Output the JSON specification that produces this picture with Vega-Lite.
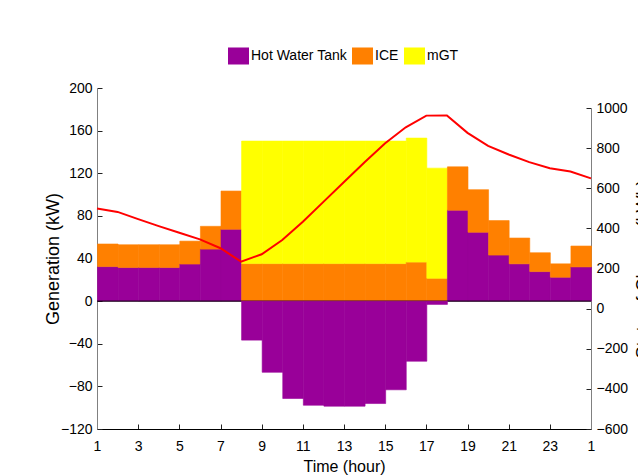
{
  "$schema": "https://vega.github.io/schema/vega-lite/v6.json",
  "width": 494,
  "height": 341,
  "autosize": {"type": "none"},
  "padding": {"left": 97, "top": 88, "right": 47, "bottom": 47},
  "background": "white",
  "config": {
    "view": {"stroke": null},
    "font": "Liberation Sans",
    "axis": {
      "grid": false,
      "labelFontSize": 14,
      "labelColor": "#000",
      "labelFlush": false,
      "labelFont": "Liberation Sans",
      "titleFont": "Liberation Sans",
      "titleFontWeight": "normal",
      "titleColor": "#000",
      "tickColor": "#222",
      "tickSize": -5,
      "tickWidth": 1,
      "domainColor": "#808080",
      "domainWidth": 1
    },
    "legend": {
      "orient": "none",
      "legendX": 131,
      "legendY": -43,
      "direction": "horizontal",
      "title": null,
      "symbolType": "M-1,-0.81H1V0.81H-1Z",
      "symbolSize": 441,
      "symbolStrokeWidth": 0,
      "symbolOpacity": 1,
      "labelFontSize": 14,
      "labelFont": "Liberation Sans",
      "labelColor": "#000",
      "labelOffset": 2,
      "columnPadding": 5,
      "padding": 0
    }
  },
  "datasets": {
    "gen": [
      {"hour": 1, "source": "Hot Water Tank", "kW": 32.4}, {"hour": 1, "source": "ICE", "kW": 21.2},
      {"hour": 2, "source": "Hot Water Tank", "kW": 31.5}, {"hour": 2, "source": "ICE", "kW": 21.4},
      {"hour": 3, "source": "Hot Water Tank", "kW": 31.5}, {"hour": 3, "source": "ICE", "kW": 21.4},
      {"hour": 4, "source": "Hot Water Tank", "kW": 31.5}, {"hour": 4, "source": "ICE", "kW": 21.4},
      {"hour": 5, "source": "Hot Water Tank", "kW": 34.8}, {"hour": 5, "source": "ICE", "kW": 21.5},
      {"hour": 6, "source": "Hot Water Tank", "kW": 48.8}, {"hour": 6, "source": "ICE", "kW": 21.4},
      {"hour": 7, "source": "Hot Water Tank", "kW": 67.4}, {"hour": 7, "source": "ICE", "kW": 35.9},
      {"hour": 8, "source": "Hot Water Tank", "kW": -36.6}, {"hour": 8, "source": "ICE", "kW": 35.2}, {"hour": 8, "source": "mGT", "kW": 115},
      {"hour": 9, "source": "Hot Water Tank", "kW": -66.8}, {"hour": 9, "source": "ICE", "kW": 35.2}, {"hour": 9, "source": "mGT", "kW": 115},
      {"hour": 10, "source": "Hot Water Tank", "kW": -91.4}, {"hour": 10, "source": "ICE", "kW": 35.2}, {"hour": 10, "source": "mGT", "kW": 115},
      {"hour": 11, "source": "Hot Water Tank", "kW": -97.7}, {"hour": 11, "source": "ICE", "kW": 35.2}, {"hour": 11, "source": "mGT", "kW": 115},
      {"hour": 12, "source": "Hot Water Tank", "kW": -98.6}, {"hour": 12, "source": "ICE", "kW": 35.2}, {"hour": 12, "source": "mGT", "kW": 115},
      {"hour": 13, "source": "Hot Water Tank", "kW": -98.6}, {"hour": 13, "source": "ICE", "kW": 35.2}, {"hour": 13, "source": "mGT", "kW": 115},
      {"hour": 14, "source": "Hot Water Tank", "kW": -96.1}, {"hour": 14, "source": "ICE", "kW": 35.2}, {"hour": 14, "source": "mGT", "kW": 115},
      {"hour": 15, "source": "Hot Water Tank", "kW": -83.2}, {"hour": 15, "source": "ICE", "kW": 35.2}, {"hour": 15, "source": "mGT", "kW": 115},
      {"hour": 16, "source": "Hot Water Tank", "kW": -56.4}, {"hour": 16, "source": "ICE", "kW": 36.6}, {"hour": 16, "source": "mGT", "kW": 116.4},
      {"hour": 17, "source": "Hot Water Tank", "kW": -3.1}, {"hour": 17, "source": "ICE", "kW": 21.4}, {"hour": 17, "source": "mGT", "kW": 103.4},
      {"hour": 18, "source": "Hot Water Tank", "kW": 85.3}, {"hour": 18, "source": "ICE", "kW": 40.7},
      {"hour": 19, "source": "Hot Water Tank", "kW": 64.6}, {"hour": 19, "source": "ICE", "kW": 40.0},
      {"hour": 20, "source": "Hot Water Tank", "kW": 43.2}, {"hour": 20, "source": "ICE", "kW": 32.4},
      {"hour": 21, "source": "Hot Water Tank", "kW": 35.0}, {"hour": 21, "source": "ICE", "kW": 24.2},
      {"hour": 22, "source": "Hot Water Tank", "kW": 27.7}, {"hour": 22, "source": "ICE", "kW": 17.7},
      {"hour": 23, "source": "Hot Water Tank", "kW": 22.4}, {"hour": 23, "source": "ICE", "kW": 12.6},
      {"hour": 24, "source": "Hot Water Tank", "kW": 32.1}, {"hour": 24, "source": "ICE", "kW": 19.6}
    ],
    "soc": [
      {"hour": 1, "soc": 499}, {"hour": 2, "soc": 482}, {"hour": 3, "soc": 446}, {"hour": 4, "soc": 411},
      {"hour": 5, "soc": 378}, {"hour": 6, "soc": 345}, {"hour": 7, "soc": 301}, {"hour": 8, "soc": 234},
      {"hour": 9, "soc": 271}, {"hour": 10, "soc": 342}, {"hour": 11, "soc": 433}, {"hour": 12, "soc": 532},
      {"hour": 13, "soc": 631}, {"hour": 14, "soc": 730}, {"hour": 15, "soc": 824}, {"hour": 16, "soc": 904},
      {"hour": 17, "soc": 962}, {"hour": 18, "soc": 963}, {"hour": 19, "soc": 876}, {"hour": 20, "soc": 811},
      {"hour": 21, "soc": 768}, {"hour": 22, "soc": 730}, {"hour": 23, "soc": 700}, {"hour": 24, "soc": 683},
      {"hour": 25, "soc": 649}
    ]
  },
  "layer": [
    {
      "layer": [
        {
          "data": {"name": "gen"},
          "transform": [{"filter": "datum.kW > 0"}],
          "mark": {"type": "bar", "binSpacing": 0, "strokeWidth": 0.6},
          "encoding": {
            "x": {
              "field": "hour", "type": "quantitative", "bin": {"binned": true, "step": 1},
              "scale": {"domain": [1, 25], "nice": false, "zero": false},
              "axis": {
                "orient": "bottom",
                "values": [1, 3, 5, 7, 9, 11, 13, 15, 17, 19, 21, 23, 25],
                "labelExpr": "datum.value > 24 ? '1' : datum.label",
                "title": "Time (hour)",
                "titleFontSize": 16,
                "titlePadding": 5,
                "labelPadding": 15,
                "domainColor": "#000"
              }
            },
            "y": {
              "field": "kW", "type": "quantitative", "stack": "zero",
              "scale": {"domain": [-120, 200], "nice": false},
              "axis": {
                "orient": "left",
                "values": [-120, -80, -40, 0, 40, 80, 120, 160, 200],
                "title": "Generation (kW)",
                "titleFontSize": 18,
                "titlePadding": -2,
                "labelPadding": 10
              }
            },
            "color": {
              "field": "source", "type": "nominal",
              "scale": {"domain": ["Hot Water Tank", "ICE", "mGT"], "range": ["#990099", "#FF8000", "#FFFF00"]}
            },
            "stroke": {"field": "source", "type": "nominal", "scale": {"domain": ["Hot Water Tank", "ICE", "mGT"], "range": ["#990099", "#FF8000", "#FFFF00"]}},
            "order": {"field": "source", "sort": "ascending"}
          }
        },
        {
          "data": {"values": [{"kW": 0}]},
          "mark": {"type": "rule", "color": "#000", "strokeWidth": 1},
          "encoding": {"y": {"field": "kW", "type": "quantitative"}}
        },
        {
          "data": {"name": "gen"},
          "transform": [{"filter": "datum.kW < 0"}],
          "mark": {"type": "bar", "binSpacing": 0, "strokeWidth": 0.6},
          "encoding": {
            "x": {"field": "hour", "type": "quantitative", "bin": {"binned": true, "step": 1}},
            "y": {"field": "kW", "type": "quantitative", "stack": "zero"},
            "color": {"field": "source", "type": "nominal"},
            "stroke": {"field": "source", "type": "nominal"}
          }
        }
      ]
    },
    {
      "data": {"name": "soc"},
      "mark": {"type": "line", "color": "#FF0000", "strokeWidth": 2},
      "encoding": {
        "x": {"field": "hour", "type": "quantitative"},
        "y": {
          "field": "soc", "type": "quantitative",
          "scale": {"domain": [-600, 1000], "range": [341, 20], "nice": false},
          "axis": {
            "orient": "right",
            "values": [-600, -400, -200, 0, 200, 400, 600, 800, 1000],
            "format": "d",
            "title": "State of Charge (kWh)",
            "titleFontSize": 18,
            "titleAngle": -90,
            "titleBaseline": "top",
            "titlePadding": 7,
            "labelPadding": 10
          }
        }
      }
    }
  ],
  "resolve": {"scale": {"y": "independent"}}
}
